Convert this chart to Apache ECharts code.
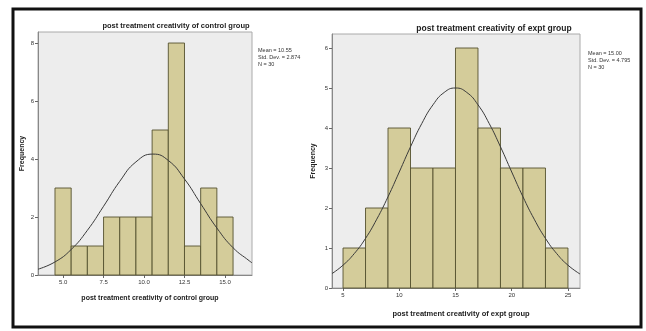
<!DOCTYPE html>
<html>
<head>
<meta charset="utf-8">
<script src="https://cdn.jsdelivr.net/npm/echarts@6/dist/echarts.min.js"></script>
<style>
  html, body { margin: 0; padding: 0; background: #fff; }
  #chart { width: 646px; height: 331px; }
</style>
</head>
<body>
<div id="chart"></div>
<script>
// control group histogram
const ctrlEdges = [4.5, 5.5, 6.5, 7.5, 8.5, 9.5, 10.5, 11.5, 12.5, 13.5, 14.5, 15.5];
const ctrlCounts = [3, 1, 1, 2, 2, 2, 5, 8, 1, 3, 2];
const ctrlXTicks = [5.0, 7.5, 10.0, 12.5, 15.0];
const ctrlYTicks = [0, 2, 4, 6, 8];
const ctrlCurveX = [3.45, 4.5, 5.5, 6.5, 7.5, 8.5, 9.5, 10.55, 11.5, 12.5, 13.5, 14.5, 15.5, 16.5, 16.67];
const ctrlCurveY = [0.20, 0.45, 0.88, 1.54, 2.37, 3.23, 3.90, 4.17, 3.95, 3.31, 2.46, 1.62, 0.94, 0.49, 0.42];
const ctrlStats = ["Mean = 10.55", "Std. Dev. = 2.874", "N = 30"];

// expt group histogram
const exptEdges = [5, 7, 9, 11, 13, 15, 17, 19, 21, 23, 25];
const exptCounts = [1, 2, 4, 3, 3, 6, 4, 3, 3, 1];
const exptXTicks = [5, 10, 15, 20, 25];
const exptYTicks = [0, 1, 2, 3, 4, 5, 6];
const exptCurveX = [4.02, 5, 6, 7, 8, 9, 10, 11, 12, 13, 14, 15, 16, 17, 18, 19, 20, 21, 22, 23, 24, 25, 26.07];
const exptCurveY = [0.36, 0.57, 0.86, 1.24, 1.72, 2.28, 2.90, 3.53, 4.11, 4.58, 4.89, 5.00, 4.89, 4.58, 4.11, 3.53, 2.90, 2.28, 1.72, 1.24, 0.86, 0.57, 0.35];
const exptStats = ["Mean = 15.00", "Std. Dev. = 4.795", "N = 30"];

const barFill = "#d4cc9a";
const barLine = "#55512f";

function histData(edges, counts) {
  return counts.map((c, i) => [edges[i], edges[i + 1], c]);
}

function renderBin(params, api) {
  const p0 = api.coord([api.value(0), api.value(2)]);
  const p1 = api.coord([api.value(1), 0]);
  return {
    type: "rect",
    shape: { x: p0[0], y: p0[1], width: p1[0] - p0[0], height: p1[1] - p0[1] },
    style: { fill: barFill, stroke: barLine, lineWidth: 0.9 }
  };
}

const tickFont = { fontFamily: "Liberation Sans", fontSize: 6, color: "#333" };

function xAxis(idx, min, max, ticks, fmt) {
  return {
    type: "value", gridIndex: idx, min: min, max: max,
    splitLine: { show: false },
    axisLine: { lineStyle: { color: "#888", width: 1 } },
    axisTick: { customValues: ticks, length: 3, lineStyle: { color: "#666" } },
    axisLabel: Object.assign({ customValues: ticks, margin: 4, formatter: fmt }, tickFont)
  };
}

function yAxis(idx, max, ticks, nameGap) {
  return {
    type: "value", gridIndex: idx, min: 0, max: max,
    name: "Frequency", nameLocation: "middle", nameGap: nameGap,
    nameTextStyle: { fontFamily: "Liberation Sans", fontSize: 7, fontWeight: "bold", color: "#222" },
    splitLine: { show: false },
    axisLine: { show: true, lineStyle: { color: "#888", width: 1 } },
    axisTick: { show: true, customValues: ticks, length: 3, lineStyle: { color: "#666" } },
    axisLabel: Object.assign({ customValues: ticks, margin: 4 }, tickFont)
  };
}

const chart = echarts.init(document.getElementById("chart"), null, { renderer: "canvas" });

chart.setOption({
  animation: false,
  backgroundColor: "#fff",
  title: [
    { text: "post treatment creativity of control group", left: 171, top: 17, textAlign: "center",
      textStyle: { fontFamily: "Liberation Sans", fontSize: 7.5, fontWeight: "bold", color: "#222" } },
    { text: "post treatment creativity of expt group", left: 489, top: 19, textAlign: "center",
      textStyle: { fontFamily: "Liberation Sans", fontSize: 8.5, fontWeight: "bold", color: "#222" } },
    { text: ctrlStats.join("\n"), left: 253, top: 42,
      textStyle: { fontFamily: "Liberation Sans", fontSize: 5.5, fontWeight: "normal", color: "#333", lineHeight: 7 } },
    { text: exptStats.join("\n"), left: 583, top: 45,
      textStyle: { fontFamily: "Liberation Sans", fontSize: 5.5, fontWeight: "normal", color: "#333", lineHeight: 7 } },
    { text: "post treatment creativity of control group", left: 145, top: 290, textAlign: "center",
      textStyle: { fontFamily: "Liberation Sans", fontSize: 7, fontWeight: "bold", color: "#222" } },
    { text: "post treatment creativity of expt group", left: 456, top: 305, textAlign: "center",
      textStyle: { fontFamily: "Liberation Sans", fontSize: 7.5, fontWeight: "bold", color: "#222" } }
  ],
  graphic: [
    { type: "rect", shape: { x: 13, y: 9, width: 628, height: 318 },
      style: { fill: null, stroke: "#111", lineWidth: 3 }, z: 100 }
  ],
  grid: [
    { left: 38, top: 32, width: 214, height: 243, show: true,
      backgroundColor: "#ededed", borderColor: "#aaa", borderWidth: 1 },
    { left: 332, top: 34, width: 248, height: 254, show: true,
      backgroundColor: "#ededed", borderColor: "#aaa", borderWidth: 1 }
  ],
  xAxis: [
    xAxis(0, 3.45, 16.67, ctrlXTicks, v => v.toFixed(1)),
    xAxis(1, 4.02, 26.07, exptXTicks, v => String(v))
  ],
  yAxis: [
    yAxis(0, 8.38, ctrlYTicks, 12),
    yAxis(1, 6.35, exptYTicks, 15)
  ],
  series: [
    { type: "custom", xAxisIndex: 0, yAxisIndex: 0, renderItem: renderBin,
      encode: { x: [0, 1], y: 2 }, data: histData(ctrlEdges, ctrlCounts) },
    { type: "line", xAxisIndex: 0, yAxisIndex: 0, smooth: true, showSymbol: false, z: 5,
      lineStyle: { color: "#3a3a3a", width: 1 },
      data: ctrlCurveX.map((x, i) => [x, ctrlCurveY[i]]) },
    { type: "custom", xAxisIndex: 1, yAxisIndex: 1, renderItem: renderBin,
      encode: { x: [0, 1], y: 2 }, data: histData(exptEdges, exptCounts) },
    { type: "line", xAxisIndex: 1, yAxisIndex: 1, smooth: true, showSymbol: false, z: 5,
      lineStyle: { color: "#3a3a3a", width: 1 },
      data: exptCurveX.map((x, i) => [x, exptCurveY[i]]) }
  ]
});
</script>
</body>
</html>
